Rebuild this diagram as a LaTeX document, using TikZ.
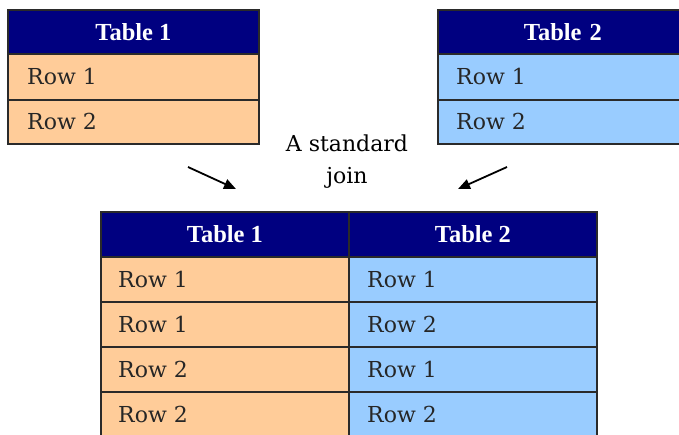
\documentclass[tikz,border=0pt]{standalone}
\usepackage{fontspec}
\setmainfont{DejaVu Serif}
\newfontfamily\hdrfont{Liberation Serif}
\usetikzlibrary{arrows.meta}
\definecolor{hdr}{HTML}{000080}
\definecolor{peach}{HTML}{FFCC99}
\definecolor{sky}{HTML}{99CCFF}
\definecolor{edge}{HTML}{2A2A2A}
\tikzset{
  cell/.style={draw=edge, line width=1.8pt, anchor=north west, inner sep=0pt, minimum height=#1},
  cell/.default=45pt,
  hcell/.style={cell, fill=hdr, text=white, font=\hdrfont\fontsize{24.5}{25}\selectfont\bfseries},
  pcell/.style={cell, fill=peach},
  bcell/.style={cell, fill=sky},
  rowtext/.style={anchor=west, inner sep=0pt, font=\fontsize{22}{23}\selectfont, text=black!85},
  captext/.style={align=center, inner sep=0pt, font=\fontsize{22}{32}\selectfont},
  joinarrow/.style={line width=1.8pt, -{Triangle[length=12pt,width=10pt]}}
}
\begin{document}
\begin{tikzpicture}[x=1pt,y=-1pt]
\useasboundingbox (0,0) rectangle (679,434);
\clip (0,0) rectangle (679,434);
\fill[white] (0,0) rectangle (679,434);
% Table 1 (top left)
\node[hcell, minimum width=251pt, minimum height=44pt] (a0) at (7,9) {Table 1};
\node[pcell, minimum width=251pt, minimum height=46pt] (a1) at (7,53) {};
\node[pcell, minimum width=251pt, minimum height=44pt] (a2) at (7,99) {};
\node[rowtext] at ([xshift=20pt]a1.west) {Row 1};
\node[rowtext] at ([xshift=20pt]a2.west) {Row 2};
% Table 2 (top right)
\node[hcell, minimum width=250pt, minimum height=44pt, text width=250pt, align=left] (b0) at (437,9) {\hspace*{86pt}Table 2};
\node[bcell, minimum width=250pt, minimum height=46pt] (b1) at (437,53) {};
\node[bcell, minimum width=250pt, minimum height=44pt] (b2) at (437,99) {};
\node[rowtext] at ([xshift=19pt]b1.west) {Row 1};
\node[rowtext] at ([xshift=19pt]b2.west) {Row 2};
% caption
\node[captext] (cap) at (347,162) {A standard\\join};
\coordinate (la) at (188,167);
\coordinate (lb) at (236,189);
\coordinate (ra) at (507,167);
\coordinate (rb) at (458,189);
\draw[joinarrow] (la) -- (lb);
\draw[joinarrow] (ra) -- (rb);
% joined table
\node[hcell, minimum width=248pt, minimum height=45pt] (c0) at (100,211) {Table 1};
\node[hcell, minimum width=248pt, minimum height=45pt] (d0) at (348,211) {Table 2};
\node[pcell, minimum width=248pt] (c1) at (100,256) {};
\node[pcell, minimum width=248pt] (c2) at (100,301) {};
\node[pcell, minimum width=248pt] (c3) at (100,346) {};
\node[pcell, minimum width=248pt, minimum height=48pt] (c4) at (100,391) {};
\node[bcell, minimum width=248pt] (d1) at (348,256) {};
\node[bcell, minimum width=248pt] (d2) at (348,301) {};
\node[bcell, minimum width=248pt] (d3) at (348,346) {};
\node[bcell, minimum width=248pt, minimum height=48pt] (d4) at (348,391) {};
\node[rowtext] at ([xshift=18pt]c1.west) {Row 1};
\node[rowtext] at ([xshift=18pt]c2.west) {Row 1};
\node[rowtext] at ([xshift=18pt]c3.west) {Row 2};
\node[rowtext] at ([xshift=18pt,yshift=1.5pt]c4.west) {Row 2};
\node[rowtext] at ([xshift=19pt]d1.west) {Row 1};
\node[rowtext] at ([xshift=19pt]d2.west) {Row 2};
\node[rowtext] at ([xshift=19pt]d3.west) {Row 1};
\node[rowtext] at ([xshift=19pt,yshift=1.5pt]d4.west) {Row 2};
\end{tikzpicture}
\end{document}
